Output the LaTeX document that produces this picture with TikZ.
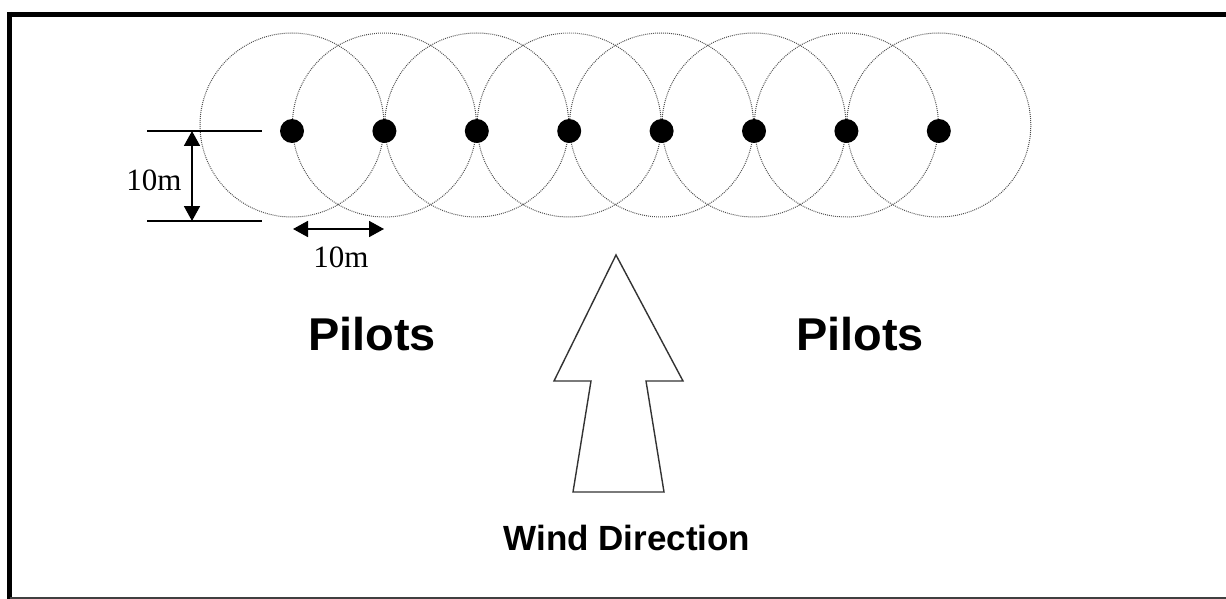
\documentclass[tikz,border=0pt]{standalone}
\usepackage{fontspec}
\setmainfont{Liberation Serif}
\newfontfamily\arialfont{Liberation Sans}
\usetikzlibrary{arrows.meta}
\tikzset{
  px/.style={x=1pt,y=-1pt},
  pilot/.style={circle,fill=black,inner sep=0pt,minimum size=24pt},
  zone/.style={circle,draw=black!70,line width=1pt,dash pattern=on 0.9pt off 1.1pt,inner sep=0pt,minimum size=184pt},
  dimline/.style={line width=1.3pt},
  dimarrow/.style={line width=1.8pt,{Triangle[length=15pt,width=16pt]}-{Triangle[length=15pt,width=16pt]}},
  dimlabel/.style={font=\fontsize{31}{31}\selectfont,anchor=base,inner sep=0pt},
  biglabel/.style={font=\arialfont\bfseries\fontsize{46}{46}\selectfont,anchor=base,inner sep=0pt,xscale=1.02},
  windlabel/.style={font=\arialfont\bfseries\fontsize{35}{35}\selectfont,anchor=base,inner sep=0pt},
  windarrow/.style={draw=black!80,line width=1.4pt,fill=white,line join=miter}
}
\begin{document}
\begin{tikzpicture}[px]
\useasboundingbox (0,0) rectangle (1226,599);
\fill[white] (0,0) rectangle (1226,599);
% frame
\draw[line width=5pt] (9.5,12) |- (1226,14.5);
\draw[line width=5pt] (9.5,12) -- (9.5,599);
\draw[black!75,line width=1.6pt] (9.5,598.2) -- (1226,598.2);
% zones and pilots
\foreach \i in {0,...,7} {
  \node[zone] (z\i) at (292+92.4*\i,125) {};
}
\foreach \i in {0,...,7} {
  \node[pilot] (p\i) at (292+92.4*\i,131) {};
}
% vertical dimension
\coordinate (t1) at (147,131);
\coordinate (t2) at (262,131);
\coordinate (b1) at (147,221);
\coordinate (b2) at (262,221);
\draw[dimline] (t1) -- (t2);
\draw[dimline] (b1) -- (b2);
\coordinate (va) at (192,131);
\coordinate (vb) at (192,221);
\draw[dimarrow] (va) -- (vb);
\node[dimlabel] (lv) at (154,190) {10m};
% horizontal dimension
\coordinate (ha) at (293,229);
\coordinate (hb) at (384,229);
\draw[dimarrow] (ha) -- (hb);
\node[dimlabel] (lh) at (341,267) {10m};
% labels
\node[biglabel] (pl) at (372,350) {Pilots};
\node[biglabel] (pr) at (860,350) {Pilots};
\node[windlabel] (wd) at (627,550) {Wind Direction};
% wind arrow
\draw[windarrow] (616,255) -- (683,381) -- (646,381) -- (664,492) -- (573,492) -- (591,381) -- (554,381) -- cycle;
\end{tikzpicture}
\end{document}
